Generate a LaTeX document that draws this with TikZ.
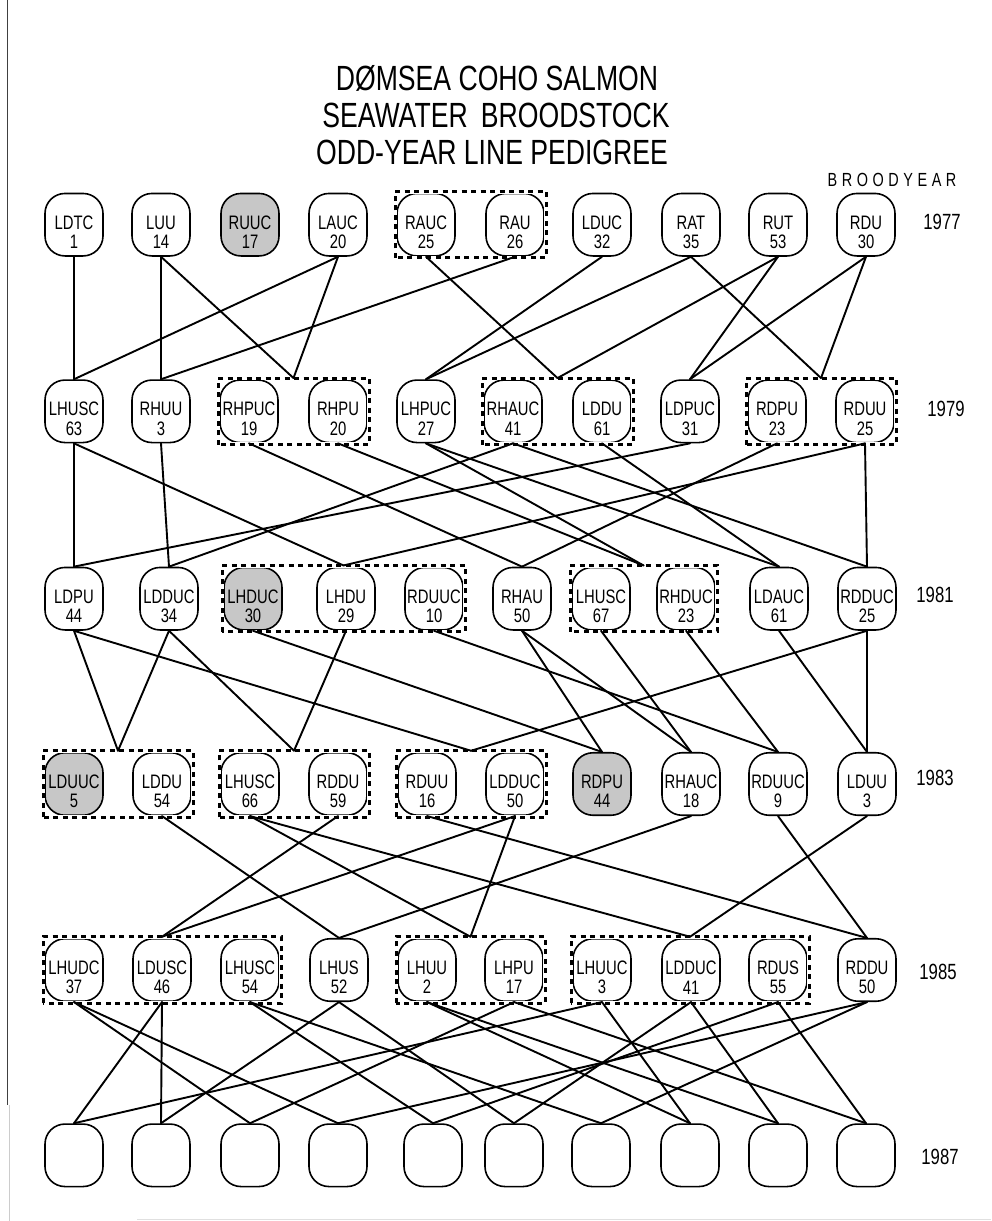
\documentclass[tikz,border=0pt]{standalone}
\usepackage{fontspec}
\setmainfont{Liberation Sans}[FakeStretch=0.76]
\usetikzlibrary{fit}
\tikzset{
  pbox/.style={draw, line width=1.6pt, rounded corners=20pt, minimum width=58pt, minimum height=62.5pt, inner sep=0pt, fill=white},
  shaded/.style={fill=black!22},
  ptext/.style={align=center, font=\fontsize{19.5}{19.5}\selectfont, inner sep=0pt},
  grpline/.style={line width=3pt, dash pattern=on 5pt off 4.5pt},
  grperase/.style={line width=4.5pt, white},
  link/.style={line width=1.9pt, line cap=round},
  yr/.style={font=\fontsize{22}{22}\selectfont, inner sep=0pt},
  ttl/.style={font=\fontsize{35}{35}\selectfont, inner sep=0pt},
}
\newcommand\pn[6]{%
  \node[pbox,#6] (#1) at (#2,#3) {};
  \node[ptext] (#1t) at ([yshift=-7.5pt]#1.center) {#4\\#5};
}
\newcommand\en[3]{\node[pbox] (#1) at (#2,#3) {};}
\newcommand\grp[2]{%
  \node[fit=#2, inner sep=1pt] (#1) {};
  \draw[grperase] (#1.south west) rectangle (#1.north east);
  \draw[grpline] (#1.south west) rectangle (#1.north east);
}
\begin{document}
\begin{tikzpicture}[x=1pt,y=-1pt]
\useasboundingbox (0,0) rectangle (991,1221);
% scan border
\draw[black!75, line width=1pt] (7,0) -- (7,1105);
\draw[black!20, line width=1pt] (9,1105) -- (9,1221);
\draw[black!12, line width=1pt] (137,1219) -- (991,1219);
% titles
\node[ttl] (t1) at (497,78) {DØMSEA COHO SALMON};
\node[ttl] (t2) at (496,115) {SEAWATER\, BROODSTOCK};
\node[ttl] (t3) at (492,152) {ODD-YEAR LINE PEDIGREE};
\node[font=\fontsize{19}{19}\selectfont\addfontfeature{LetterSpace=24}, inner sep=0pt] (by) at (892,180) {BROODYEAR};
% year labels
\node[yr] (y77) at (942,222) {1977};
\node[yr] (y79) at (946,409) {1979};
\node[yr] (y81) at (935,595) {1981};
\node[yr] (y83) at (935,778) {1983};
\node[yr] (y85) at (938,972) {1985};
\node[yr] (y87) at (940,1157) {1987};
% 1977
\pn{a1}{74}{224.7}{LDTC}{1}{}
\pn{a2}{161}{224.7}{LUU}{14}{}
\pn{a3}{250}{224.7}{RUUC}{17}{shaded}
\pn{a4}{338}{224.7}{LAUC}{20}{}
\pn{a5}{426}{224.7}{RAUC}{25}{}
\pn{a6}{515}{224.7}{RAU}{26}{}
\pn{a7}{602}{224.7}{LDUC}{32}{}
\pn{a8}{691}{224.7}{RAT}{35}{}
\pn{a9}{778}{224.7}{RUT}{53}{}
\pn{a10}{866}{224.7}{RDU}{30}{}
\grp{ga}{(a5)(a6)}
% 1979
\pn{b1}{74}{411.3}{LHUSC}{63}{}
\pn{b2}{161}{411.3}{RHUU}{3}{}
\pn{b3}{249}{411.3}{RHPUC}{19}{}
\pn{b4}{338}{411.3}{RHPU}{20}{}
\pn{b5}{426}{411.3}{LHPUC}{27}{}
\pn{b6}{513}{411.3}{RHAUC}{41}{}
\pn{b7}{602}{411.3}{LDDU}{61}{}
\pn{b8}{690}{411.3}{LDPUC}{31}{}
\pn{b9}{777}{411.3}{RDPU}{23}{}
\pn{b10}{865}{411.3}{RDUU}{25}{}
\grp{gb1}{(b3)(b4)}
\grp{gb2}{(b6)(b7)}
\grp{gb3}{(b9)(b10)}
% 1981
\pn{c1}{74}{598.7}{LDPU}{44}{}
\pn{c2}{169}{598.7}{LDDUC}{34}{}
\pn{c3}{253}{598.7}{LHDUC}{30}{shaded}
\pn{c4}{346}{598.7}{LHDU}{29}{}
\pn{c5}{434}{598.7}{RDUUC}{10}{}
\pn{c6}{522}{598.7}{RHAU}{50}{}
\pn{c7}{601}{598.7}{LHUSC}{67}{}
\pn{c8}{686}{598.7}{RHDUC}{23}{}
\pn{c9}{779}{598.7}{LDAUC}{61}{}
\pn{c10}{867}{598.7}{RDDUC}{25}{}
\grp{gc1}{(c3)(c4)(c5)}
\grp{gc2}{(c7)(c8)}
% 1983
\pn{d1}{74}{784}{LDUUC}{5}{shaded}
\pn{d2}{162}{784}{LDDU}{54}{}
\pn{d3}{250}{784}{LHUSC}{66}{}
\pn{d4}{338}{784}{RDDU}{59}{}
\pn{d5}{427}{784}{RDUU}{16}{}
\pn{d6}{515}{784}{LDDUC}{50}{}
\pn{d7}{602}{784}{RDPU}{44}{shaded}
\pn{d8}{691}{784}{RHAUC}{18}{}
\pn{d9}{778}{784}{RDUUC}{9}{}
\pn{d10}{867}{784}{LDUU}{3}{}
\grp{gd1}{(d1)(d2)}
\grp{gd2}{(d3)(d4)}
\grp{gd3}{(d5)(d6)}
% 1985
\pn{e1}{74}{970}{LHUDC}{37}{}
\pn{e2}{162}{970}{LDUSC}{46}{}
\pn{e3}{250}{970}{LHUSC}{54}{}
\pn{e4}{339}{970}{LHUS}{52}{}
\pn{e5}{427}{970}{LHUU}{2}{}
\pn{e6}{514}{970}{LHPU}{17}{}
\pn{e7}{602}{970}{LHUUC}{3}{}
\pn{e8}{691}{970}{LDDUC}{41}{}
\pn{e9}{778}{970}{RDUS}{55}{}
\pn{e10}{867}{970}{RDDU}{50}{}
\grp{ge1}{(e1)(e2)(e3)}
\grp{ge2}{(e5)(e6)}
\grp{ge3}{(e7)(e8)(e9)}
% 1987
\en{f1}{74}{1155.3}
\en{f2}{161}{1155.3}
\en{f3}{250}{1155.3}
\en{f4}{338}{1155.3}
\en{f5}{433}{1155.3}
\en{f6}{514}{1155.3}
\en{f7}{601}{1155.3}
\en{f8}{690}{1155.3}
\en{f9}{778}{1155.3}
\en{f10}{866}{1155.3}
% connectors 1977 -> 1979
\foreach \p/\c in {a1/b1, a2/b2, a2/gb1, a4/b1, a4/gb1, a5/gb2, a6/b2, a7/b5, a8/b5, a8/gb3, a9/gb2, a9/b8, a10/b8, a10/gb3}
  \draw[link] (\p.south) -- (\c.north);
% 1979 -> 1981
\foreach \p/\c in {b1/c1, b1/gc1, b2/c2, b3/c6, b4/gc2, b5/gc2, b5/c9, b6/c2, b6/c10, b7/c9, b8/c1, b9/c6, b10/gc1, b10/c10}
  \draw[link] (\p.south) -- (\c.north);
% 1981 -> 1983
\foreach \p/\c in {c1/gd1, c2/gd1, c2/gd2, c4/gd2, c1/gd3, c10/gd3, c3/d7, c6/d7, c6/d8, c7/d8, c5/d9, c8/d9, c9/d10, c10/d10}
  \draw[link] (\p.south) -- (\c.north);
% 1983 -> 1985
\foreach \p/\c in {d4/ge1, d6/ge1, d2/e4, d8/e4, d3/ge2, d6/ge2, d3/ge3, d10/ge3, d5/e10, d9/e10}
  \draw[link] (\p.south) -- (\c.north);
% 1985 -> 1987
\foreach \p/\c in {e1/f3, e1/f4, e2/f1, e2/f2, e3/f5, e3/f7, e4/f2, e4/f6, e5/f8, e5/f9, e6/f3, e6/f10, e7/f1, e7/f8, e8/f6, e8/f9, e9/f5, e9/f10, e10/f4, e10/f7}
  \draw[link] (\p.south) -- (\c.north);
\end{tikzpicture}
\end{document}
